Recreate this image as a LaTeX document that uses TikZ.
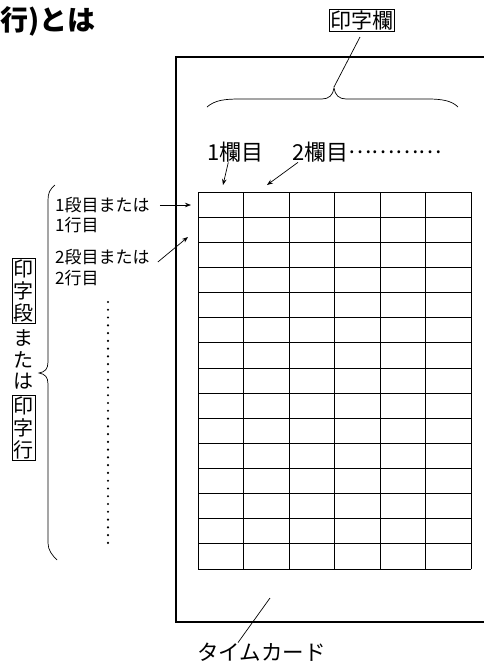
\documentclass[tikz,border=0pt]{standalone}
\usepackage{fontspec}
\setmainfont{Noto Sans CJK JP}
\usetikzlibrary{
  arrows.meta,
  positioning
}
\tikzset{
  arr/.style={-{Stealth[length=6pt,width=4.5pt]},line width=0.7pt},
  leader/.style={line width=0.7pt},
  boxlabel/.style={draw,line width=0.8pt,inner sep=1.5pt},
  vtext/.style={align=center,inner sep=1.5pt,font=\fs{20}{21.7}}
}
\newcommand{\fs}[2]{\fontsize{#1}{#2}\selectfont}

\begin{document}
\begin{tikzpicture}[x=1pt,y=-1pt]
  \useasboundingbox (0,0) rectangle (484,665);
  % title (cut off at the left)
  \node[anchor=west,inner sep=0pt,font=\fs{28}{30}\bfseries] (title) at (0,21) {行)とは};
  % card
  \draw[line width=1.2pt] (176,57) rectangle (495,622);
  % grid of the card
  \foreach \i in {0,...,6}
    \draw[line width=0.8pt] (198+45.5*\i,192) -- (198+45.5*\i,569);
  \foreach \j in {0,...,15}
    \draw[line width=0.8pt] (198,192+25.13*\j) -- (471,192+25.13*\j);
  % top brace and its label
  \draw[leader] (207,107) .. controls (215,100) and (225,99) .. (240,99)
               -- (322,99) .. controls (329,99) and (333,95) .. (334,88)
               .. controls (335,95) and (339,99) .. (346,99)
               -- (428,99) .. controls (443,99) and (452,101) .. (458,107);
  \coordinate (ranTip) at (334,87);
  \coordinate (ranLead) at (360,37);
  \node[boxlabel,inner sep=1pt,font=\fs{21}{21}] (ranLabel) at (362,20.5) {印字欄};
  \draw[leader] (ranTip) -- (ranLead);
  % column labels
  \node[anchor=west,inner sep=0pt,font=\fs{22}{22}] (colOne) at (207,152) {1欄目};
  \node[anchor=west,inner sep=0pt,font=\fs{22}{22}] (colTwo) at (292,152) {2欄目\raisebox{7pt}{…………}};
  \coordinate (cellOne) at (223,185);
  \coordinate (cellTwo) at (267,185);
  \draw[arr] ([xshift=-7pt]colOne.south) -- (cellOne);
  \draw[arr] ([xshift=6pt]colTwo.south west) -- (cellTwo);
  % row labels
  \node[anchor=west,inner sep=0pt,font=\fs{17}{17}] (rowOneA) at (55,205) {1段目または};
  \node[anchor=west,inner sep=0pt,font=\fs{17}{17}] (rowOneB) at (55,225) {1行目};
  \node[anchor=west,inner sep=0pt,font=\fs{17}{17}] (rowTwoA) at (55,257) {2段目または};
  \node[anchor=west,inner sep=0pt,font=\fs{17}{17}] (rowTwoB) at (55,278) {2行目};
  \coordinate (rowOneTip) at (191,205);
  \coordinate (rowTwoTip) at (188,237);
  \draw[arr] ([xshift=10pt]rowOneA.east) -- (rowOneTip);
  \draw[arr] ([xshift=8pt,yshift=-5pt]rowTwoA.east) -- (rowTwoTip);
  % vertical dots
  \foreach \k in {0,...,31}
    \fill (108,302+7.77*\k) circle (1.2);
  % left brace and vertical label
  \draw[leader] (55,185) .. controls (50,189) and (48,193) .. (48,200)
               -- (48,362) .. controls (48,369) and (45,372) .. (39,373)
               .. controls (45,374) and (48,377) .. (48,384)
               -- (48,543) .. controls (48,550) and (52,555) .. (57,560);
  \node[boxlabel,vtext] (vBoxA) at (23.5,291) {印\\字\\段};
  \node[vtext,below=4pt of vBoxA] (vMid) {ま\\た\\は};
  \node[boxlabel,vtext,below=4pt of vMid] (vBoxB) {印\\字\\行};
  % card label
  \node[anchor=west,inner sep=0pt,font=\fs{21.5}{21.5}] (cardLabel) at (197,652) {タイムカード};
  \coordinate (cardPt) at (270,598);
  \draw[leader] ([xshift=41pt]cardLabel.north west) -- (cardPt);
\end{tikzpicture}
\end{document}
